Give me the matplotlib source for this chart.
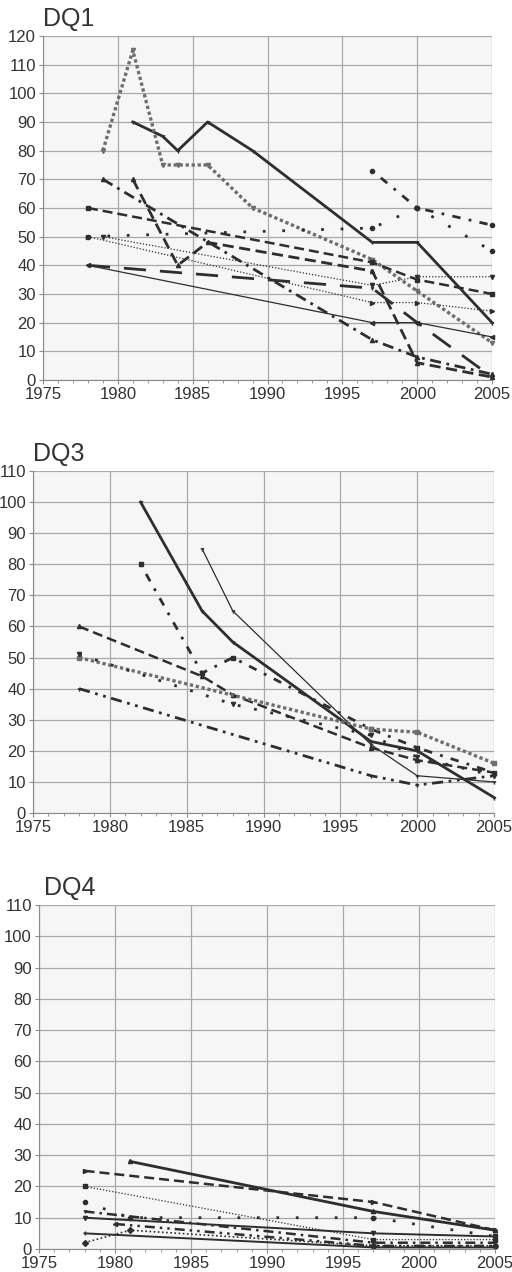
# DQ1 / DQ3 / DQ4 trend panels, 1975-2005
import matplotlib
matplotlib.use("Agg")
import matplotlib.pyplot as plt
from matplotlib.ticker import MultipleLocator

plt.rcParams['font.family'] = ['Liberation Sans', 'DejaVu Sans']

# ---- DQ1 data ----
dq1_x = [
    [1981, 1983, 1984, 1986, 1989, 1997, 2000, 2005],
    [1979, 1981, 1983, 1984, 1986, 1989, 1997, 2000, 2005],
    [1997, 2000, 2005],
    [1979, 1997, 2000, 2005],
    [1981, 1984, 1986, 1997, 2000, 2005],
    [1978, 1997, 2000, 2005],
    [1979, 1997, 2000, 2005],
    [1978, 1997, 2000, 2005],
    [1978, 1997, 2000, 2005],
    [1978, 1997, 2000, 2005],
    [1978, 1997, 2000, 2005],
]
dq1_y = [
    [90, 85, 80, 90, 80, 48, 48, 20],
    [80, 115, 75, 75, 75, 60, 42, 31, 13],
    [73, 60, 54],
    [70, 14, 8, 2],
    [70, 40, 48, 38, 6, 1],
    [60, 41, 35, 30],
    [50, 33, 36, 36],
    [50, 53, 60, 45],
    [40, 32, 20, 1],
    [40, 20, 20, 15],
    [50, 27, 27, 24],
]

# ---- DQ3 data ----
dq3_x = [
    [1982, 1986, 1988, 1997, 2000, 2005],
    [1986, 1988, 1997, 2000, 2005],
    [1982, 1986, 1988, 1997, 2000, 2005],
    [1978, 1986, 1988, 1997, 2000, 2005],
    [1978, 1997, 2000, 2005],
    [1978, 1988, 1997, 2000, 2005],
    [1978, 1997, 2000, 2005],
]
dq3_y = [
    [100, 65, 55, 23, 20, 5],
    [85, 65, 22, 12, 10],
    [80, 45, 50, 27, 21, 13],
    [60, 44, 38, 21, 17, 13],
    [50, 27, 26, 16],
    [51, 35, 25, 18, 12],
    [40, 12, 9, 12],
]

# ---- DQ4 data ----
dq4_x = [
    [1981, 1997, 2005],
    [1978, 1997, 2005],
    [1978, 1997, 2005],
    [1978, 1981, 1997, 2005],
    [1978, 1997, 2005],
    [1978, 1997, 2005],
    [1980, 1997, 2005],
    [1978, 1997, 2005],
    [1978, 1981, 1997, 2005],
]
dq4_y = [
    [28, 12, 6],
    [25, 15, 6],
    [20, 3, 3],
    [15, 10, 10, 4],
    [12, 2, 2],
    [10, 5, 4],
    [8, 1, 1],
    [5, 0.5, 0.5],
    [2, 6, 1, 1],
]

DARK = '#2e2e2e'
GRAY = '#6e6e6e'

# line styles: (linestyle, linewidth, color, marker)
dq1_styles = [
    ('-', 2.0, DARK, '1'),
    ((0, (1, 0.8)), 2.4, GRAY, 'v'),
    ((0, (1, 3, 3, 3)), 2.0, DARK, 'o'),
    ((0, (4, 2, 1, 2)), 2.0, DARK, '^'),
    ((0, (4, 2)), 2.0, DARK, '^'),
    ((0, (4, 2)), 1.8, DARK, 's'),
    ((0, (1, 1.5)), 0.9, DARK, 'v'),
    ((0, (1, 6)), 2.0, DARK, 'o'),
    ((0, (8, 5)), 2.0, DARK, '1'),
    ('-', 0.9, DARK, '<'),
    ((0, (1, 1.5)), 0.9, DARK, '>'),
]
dq3_styles = [
    ('-', 2.0, DARK, '1'),
    ('-', 0.9, DARK, '1'),
    ((0, (1, 3, 3, 3)), 2.0, DARK, 's'),
    ((0, (4, 2)), 1.8, DARK, '^'),
    ((0, (1, 0.8)), 2.4, GRAY, 's'),
    ((0, (1, 5)), 2.0, DARK, 'v'),
    ((0, (4, 2, 1, 2, 1, 2)), 2.0, DARK, '1'),
]
dq4_styles = [
    ('-', 2.0, DARK, '^'),
    ((0, (4, 2)), 1.8, DARK, '>'),
    ((0, (1, 1.5)), 0.9, DARK, 's'),
    ((0, (1, 6)), 2.0, DARK, 'o'),
    ((0, (4, 2, 1, 2)), 1.8, DARK, '1'),
    ('-', 1.4, DARK, 'v'),
    ((0, (4, 2, 1, 2, 1, 2)), 1.8, DARK, '<'),
    ('-', 1.4, DARK, '|'),
    ((0, (1, 1.5)), 1.2, DARK, 'D'),
]

fig = plt.figure(figsize=(5.12, 12.72), dpi=100)

panels = [
    ('DQ1', dq1_x, dq1_y, dq1_styles, [0.084, 0.7013, 0.877, 0.2704], 120, 0.0),
    ('DQ3', dq3_x, dq3_y, dq3_styles, [0.0645, 0.3608, 0.9005, 0.2689], 110, 0.0),
    ('DQ4', dq4_x, dq4_y, dq4_styles, [0.076, 0.0181, 0.891, 0.2704], 110, 0.012),
]

for title, xs, ys, styles, rect, ymax, title_dx in panels:
    ax = fig.add_axes(rect)
    ax.set_facecolor('#f6f6f6')
    for x, y, (ls, lw, c, m) in zip(xs, ys, styles):
        ax.plot(x, y, linestyle=ls, linewidth=lw, color=c, marker=m,
                markersize=3, markeredgewidth=1.0, clip_on=False)
    ax.set_xlim(1975, 2005)
    ax.set_ylim(0, ymax)
    ax.xaxis.set_major_locator(MultipleLocator(5))
    ax.xaxis.set_minor_locator(MultipleLocator(1))
    ax.yaxis.set_major_locator(MultipleLocator(10))
    ax.grid(True, which='major', color='#a9a9a9', linewidth=0.9)
    ax.set_axisbelow(True)
    for s in ['top', 'right']:
        ax.spines[s].set_visible(False)
    for s in ['left', 'bottom']:
        ax.spines[s].set_color('#8a8a8a')
    ax.tick_params(which='major', length=3, color='#8a8a8a', labelsize=12,
                   labelcolor='#333333', pad=2)
    ax.tick_params(which='minor', length=2, color='#8a8a8a')
    ax.text(0.0 + title_dx, 1.015, title, transform=ax.transAxes,
            fontsize=18, color='#333333', ha='left', va='bottom')

fig.savefig('out.png', dpi=100, facecolor='white')
